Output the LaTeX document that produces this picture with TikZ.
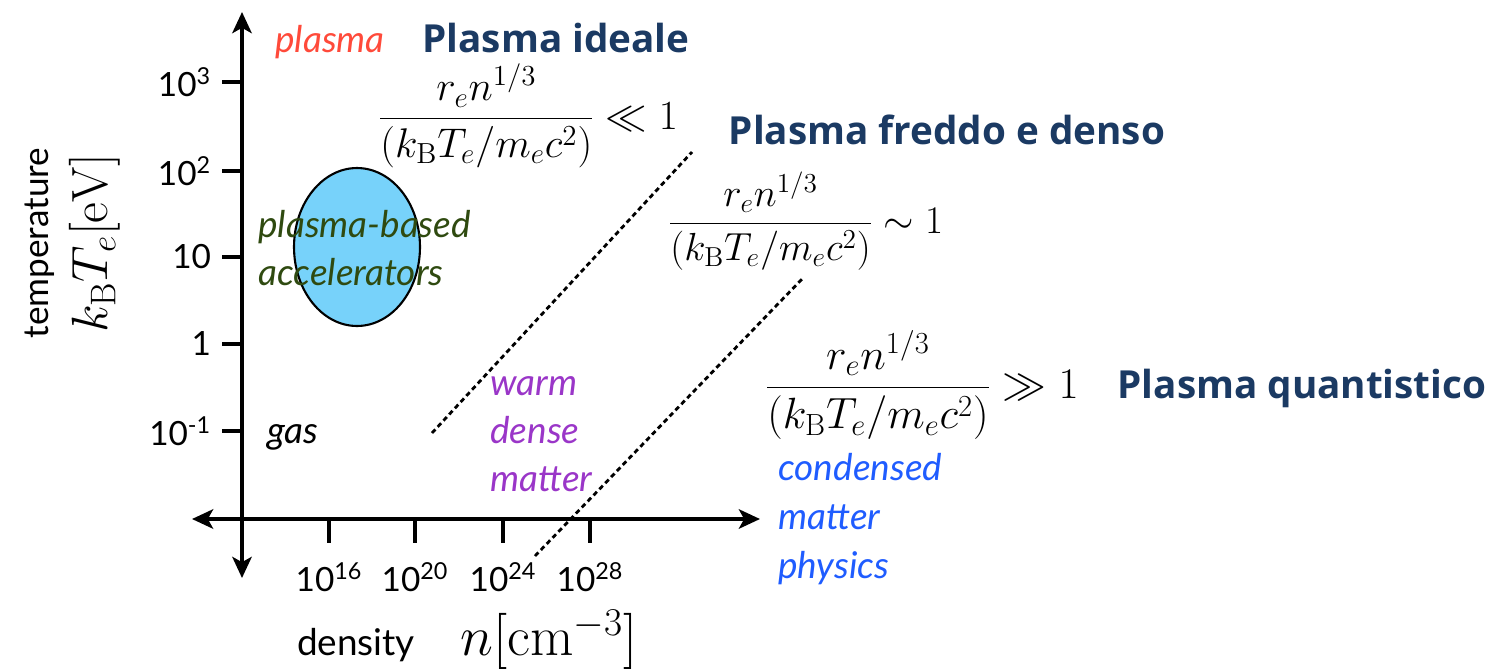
\documentclass[tikz,border=0pt]{standalone}
\usepackage{fix-cm}
\usepackage[no-math]{fontspec}
\setsansfont{Lato}
\newfontfamily\headfont{Open Sans}
\usetikzlibrary{arrows.meta, shapes.geometric}
\definecolor{HeadBlue}{RGB}{27, 58, 99}
\definecolor{PlasmaRed}{RGB}{255, 74, 58}
\definecolor{AccGreen}{RGB}{47, 74, 16}
\definecolor{WdmPurple}{RGB}{154, 54, 200}
\definecolor{CondBlue}{RGB}{31, 92, 255}
\definecolor{BlobBlue}{RGB}{119, 210, 250}
\newcommand{\ratio}{\frac{r_e n^{1/3}}{(k_{\mathrm{B}}T_e/m_e c^2)}}

\begin{document}
\begin{tikzpicture}[
  x=0.02cm, y=-0.02cm,
  every node/.style={font=\sffamily\fontsize{19pt}{27pt}\selectfont, inner sep=0pt},
  axis/.style={line width=2.4pt, {Stealth[length=12pt,width=11pt,inset=3pt]}-{Stealth[length=12pt,width=11pt,inset=3pt]}},
  tick/.style={line width=2.4pt},
  border/.style={line width=1.6pt, dash pattern=on 2.8pt off 2pt},
  region/.style={font=\sffamily\itshape\fontsize{21pt}{27.5pt}\selectfont, align=left, anchor=west},
  headline/.style={font=\headfont\bfseries\fontsize{22pt}{26pt}\selectfont, text=HeadBlue},
  crit/.style={anchor=west}
]
  \useasboundingbox (0,0) rectangle (1504,670);

  %% axes
  \coordinate (ytop)   at (242, 12);
  \coordinate (ybot)   at (242, 578);
  \coordinate (xleft)  at (192, 519);
  \coordinate (xright) at (760, 519);
  \draw[axis] (ybot) -- (ytop);
  \draw[axis] (xleft) -- (xright);

  %% temperature ticks
  \foreach \y/\lab in {82/10\textsuperscript{3}, 171/10\textsuperscript{2}, 257/10, 344/1, 431/10\textsuperscript{-1}}
    \draw[tick] (222,\y) -- (242,\y) node[pos=0, anchor=east, xshift=-5pt] {\lab};

  %% density ticks
  \foreach \x/\lab in {329/16, 415/20, 503/24, 590/28}
    \draw[tick] (\x,519) -- (\x,543) node[pos=1, anchor=north, yshift=-10pt] {10\textsuperscript{\lab}};

  %% axis titles
  \node[rotate=90, font=\sffamily\fontsize{20pt}{24pt}\selectfont] (temp) at (40, 243) {temperature};
  \node[rotate=90, font=\fontsize{29pt}{33pt}\selectfont] (tunit) at (95, 243) {$k_{\mathrm{B}}T_e[\mathrm{eV}]$};
  \node[font=\sffamily\fontsize{21pt}{24pt}\selectfont] (dens) at (356, 645) {density};
  \node[anchor=west, font=\fontsize{32pt}{36pt}\selectfont] (nunit) at (460, 640) {$n[\mathrm{cm}^{-3}]$};

  %% boundaries between regimes
  \coordinate (b1s) at (432, 433);
  \coordinate (b1e) at (692, 152);
  \coordinate (b2s) at (535, 556);
  \coordinate (b2e) at (802, 279);
  \draw[border] (b1s) -- (b1e);
  \draw[border] (b2s) -- (b2e);

  %% accelerator blob
  \node[ellipse, draw, line width=1.2pt, fill=BlobBlue, minimum width=2.52cm, minimum height=3.16cm] (blob) at (357, 247) {};

  %% regions
  \node[region, text=PlasmaRed] (plasma) at (275, 42) {plasma};
  \node[region, text=AccGreen] (acc) at (258, 248) {plasma-based\\accelerators};
  \node[region, text=black] (gas) at (267, 437) {gas};
  \node[region, text=WdmPurple] (wdm) at (490, 434) {warm\\dense\\matter};
  \node[region, text=CondBlue, font=\sffamily\itshape\fontsize{21pt}{28pt}\selectfont] (cmp) at (778, 519) {condensed\\matter\\physics};

  %% criteria
  \node[crit, font=\fontsize{23.6pt}{28pt}\selectfont] (ideal) at (378, 116) {$\displaystyle\ratio \ll 1$};
  \node[crit, font=\fontsize{22.3pt}{27pt}\selectfont] (cold) at (668, 221) {$\displaystyle\ratio \sim 1$};
  \node[crit, font=\fontsize{24.9pt}{30pt}\selectfont] (quant) at (765, 385) {$\displaystyle\ratio \gg 1$};

  %% headlines
  \node[headline] (hideal) at (556, 38) {Plasma ideale};
  \node[headline] (hcold) at (947, 130) {Plasma freddo e denso};
  \node[headline] (hquant) at (1302, 388) {Plasma quantistico};
\end{tikzpicture}
\end{document}
